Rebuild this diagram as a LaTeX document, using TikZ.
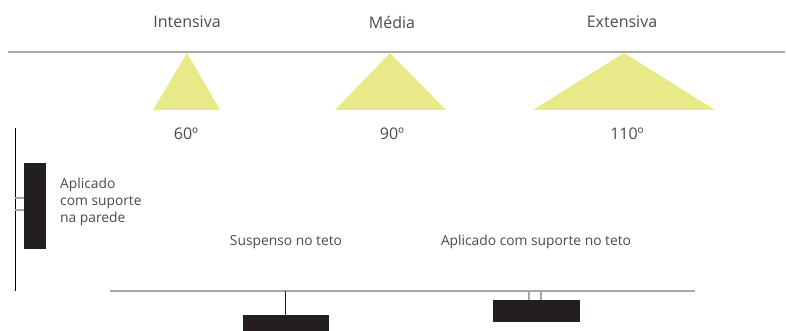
\documentclass[tikz,border=0pt]{standalone}
\usepackage{fontspec}
\setmainfont{Open Sans}
\usepackage{xcolor}
\definecolor{beam}{HTML}{E8EA8A}
\definecolor{fixture}{HTML}{231F20}
\definecolor{rail}{HTML}{A8A8A8}
\definecolor{label}{HTML}{4A4A4A}
\tikzset{
  lbl/.style={font=\fontsize{16}{18}\selectfont, text=label, inner sep=0pt},
  small/.style={font=\fontsize{13.8}{17}\selectfont, text=label, inner sep=0pt, align=left},
}

\begin{document}
\begin{tikzpicture}[x=1pt,y=-1pt]
  \useasboundingbox (0,0) rectangle (787,331);

  % top rail and beam angles
  \draw[rail,line width=1.8pt] (8,52) -- (785,52);
  \fill[beam] (187,53) -- (153,110) -- (220,110) -- cycle;
  \fill[beam] (390,53) -- (335,110) -- (446,110) -- cycle;
  \fill[beam] (624,53) -- (533,110) -- (715,110) -- cycle;

  \node[lbl] (int) at (187,22) {Intensiva};
  \node[lbl] (med) at (392,22) {Média};
  \node[lbl] (ext) at (622,22) {Extensiva};
  \node[lbl] (a60) at (186,134) {60º};
  \node[lbl] (a90) at (392,134) {90º};
  \node[lbl] (a110) at (627,134) {110º};

  % wall mounted
  \draw[black,line width=0.9pt] (15,128) -- (15,291);
  \draw[rail,line width=1.2pt] (15,198) -- (24,198);
  \draw[rail,line width=1.2pt] (15,210) -- (24,210);
  \fill[fixture] (24,163) rectangle (46,249);
  \node[small,anchor=north west] (wall) at (60,178) {Aplicado\\com suporte\\na parede};

  % ceiling
  \draw[rail,line width=1.8pt] (110,291) -- (695,291);

  % suspended
  \draw[fixture,line width=1pt] (285,291) -- (285,316);
  \fill[fixture] (243,315) rectangle (329,333);
  \node[small] (susp) at (286,242) {Suspenso no teto};

  % ceiling mounted
  \draw[rail,line width=1.2pt] (529,291) -- (529,300);
  \draw[rail,line width=1.2pt] (541,291) -- (541,300);
  \fill[fixture] (493,300) rectangle (580,322);
  \node[small] (teto) at (536,242) {Aplicado com suporte no teto};
\end{tikzpicture}
\end{document}
